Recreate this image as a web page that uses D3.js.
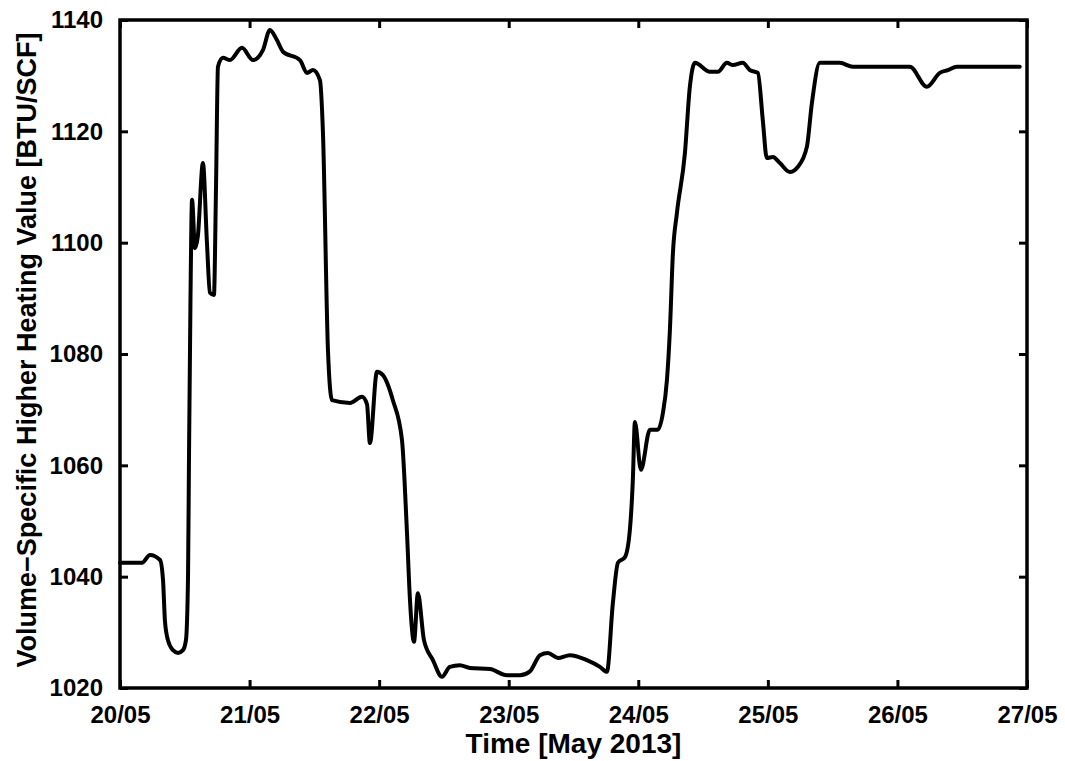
<!DOCTYPE html>
<html>
<head>
<meta charset="utf-8">
<script src="https://cdn.jsdelivr.net/npm/d3@7"></script>
<style>
  html, body { margin: 0; padding: 0; background: #fff; }
  svg { display: block; }
  text { font-family: "Liberation Sans", Arial, sans-serif; font-weight: bold; fill: #000; }
</style>
</head>
<body>
<svg id="chart" width="1065" height="761"></svg>
<script>
// Elapsed time in days since 20/05/2013 00:00
const dayOffsets = [
  0, 0.170, 0.231, 0.309, 0.332, 0.347, 0.370, 0.409, 0.448, 0.486, 0.509, 0.525,
  0.532, 0.544, 0.556, 0.579, 0.600, 0.640, 0.671, 0.694, 0.725, 0.741, 0.756, 0.795,
  0.849, 0.941, 1.026, 1.103, 1.157, 1.211, 1.258, 1.389, 1.443, 1.489, 1.543, 1.566,
  1.605, 1.636, 1.775, 1.867, 1.906, 1.929, 1.983, 2.029, 2.106, 2.176, 2.215, 2.238,
  2.269, 2.299, 2.346, 2.415, 2.485, 2.546, 2.623, 2.701, 2.855, 2.986, 3.086, 3.164,
  3.241, 3.302, 3.380, 3.472, 3.603, 3.704, 3.758, 3.804, 3.843, 3.897, 3.935, 3.958,
  3.974, 4.020, 4.090, 4.151, 4.190, 4.221, 4.244, 4.267, 4.298, 4.360, 4.398, 4.437,
  4.552, 4.614, 4.684, 4.730, 4.807, 4.861, 4.923, 4.961, 4.992, 5.039, 5.093, 5.170,
  5.231, 5.301, 5.340, 5.401, 5.556, 5.656, 6.096, 6.227, 6.327, 6.389, 6.458, 6.944
];

// Volume-specific higher heating value [BTU/SCF]
const hhvValues = [
  1042.5, 1042.5, 1043.9, 1043.0, 1039.4, 1032.0, 1028.6, 1026.8, 1026.3, 1026.8, 1028.6, 1040.0,
  1060.0, 1090.0, 1107.7, 1099.0, 1101.0, 1114.3, 1100.0, 1091.0, 1090.6, 1110.0, 1131.6, 1133.2,
  1132.8, 1135.0, 1132.8, 1134.6, 1138.2, 1136.4, 1134.3, 1132.8, 1130.5, 1131.0, 1129.2, 1120.0,
  1080.7, 1071.7, 1071.2, 1072.3, 1071.0, 1064.0, 1076.8, 1076.2, 1071.7, 1064.6, 1047.8, 1035.8,
  1028.3, 1037.0, 1028.6, 1025.0, 1022.0, 1023.8, 1024.1, 1023.6, 1023.4, 1022.3, 1022.3, 1023.0,
  1025.9, 1026.3, 1025.4, 1025.9, 1025.0, 1023.8, 1022.9, 1035.3, 1042.5, 1043.5, 1048.4, 1057.4,
  1067.8, 1059.2, 1066.4, 1066.4, 1069.4, 1075.3, 1084.3, 1098.0, 1105.3, 1116.1, 1128.0, 1132.3,
  1130.7, 1130.7, 1132.3, 1131.9, 1132.3, 1131.0, 1130.5, 1122.0, 1115.2, 1115.4, 1114.3, 1112.7,
  1113.6, 1117.2, 1125.1, 1132.3, 1132.3, 1131.6, 1131.6, 1128.0, 1130.5, 1131.0, 1131.6, 1131.6
];

// Axis ticks
const xTickDays = [0, 1, 2, 3, 4, 5, 6, 7];
const yTickValues = [1020, 1040, 1060, 1080, 1100, 1120, 1140];

const xTitle = "Time [May 2013]";
const yTitle = "Volume\u2212Specific Higher Heating Value [BTU/SCF]";

const startMs = Date.UTC(2013, 4, 20);
const toDate = d => new Date(startMs + d * 86400000);

const plot = { left: 120, right: 1027, top: 20, bottom: 688 };

const svg = d3.select("#chart");

const x = d3.scaleUtc()
  .domain([toDate(0), toDate(7)])
  .range([plot.left, plot.right]);

const y = d3.scaleLinear()
  .domain([1020, 1140])
  .range([plot.bottom, plot.top]);

const xTicks = xTickDays.map(toDate);
const fmtDay = d3.utcFormat("%d/%m");
const tickLen = 8;
const tickFont = 24;

function styleAxis(g) {
  g.select(".domain").remove();
  g.selectAll(".tick line").attr("stroke", "#000").attr("stroke-width", 3);
  g.selectAll(".tick text")
    .style("font-size", tickFont + "px")
    .style("font-weight", "bold")
    .attr("fill", "#000");
}

// Bottom axis with labels, inward ticks
svg.append("g")
  .attr("transform", `translate(0,${plot.bottom})`)
  .call(d3.axisBottom(x).tickValues(xTicks).tickFormat(fmtDay)
    .tickSizeInner(-tickLen).tickSizeOuter(0).tickPadding(tickLen + 10))
  .call(styleAxis);

// Top mirror ticks
svg.append("g")
  .attr("transform", `translate(0,${plot.top})`)
  .call(d3.axisTop(x).tickValues(xTicks).tickFormat(() => "")
    .tickSizeInner(-tickLen).tickSizeOuter(0))
  .call(styleAxis);

// Left axis with labels, inward ticks
svg.append("g")
  .attr("transform", `translate(${plot.left},0)`)
  .call(d3.axisLeft(y).tickValues(yTickValues).tickFormat(d3.format("d"))
    .tickSizeInner(-tickLen).tickSizeOuter(0).tickPadding(tickLen + 9))
  .call(styleAxis);

// Right mirror ticks
svg.append("g")
  .attr("transform", `translate(${plot.right},0)`)
  .call(d3.axisRight(y).tickValues(yTickValues).tickFormat(() => "")
    .tickSizeInner(-tickLen).tickSizeOuter(0))
  .call(styleAxis);

// Series line
const series = dayOffsets.map((d, i) => ({ t: toDate(d), v: hhvValues[i] }));
const line = d3.line()
  .x(d => x(d.t))
  .y(d => y(d.v))
  .curve(d3.curveMonotoneX);

svg.append("path")
  .datum(series)
  .attr("fill", "none")
  .attr("stroke", "#000")
  .attr("stroke-width", 4)
  .attr("stroke-linejoin", "round")
  .attr("stroke-linecap", "round")
  .attr("d", line);

// Plot frame
svg.append("rect")
  .attr("x", plot.left)
  .attr("y", plot.top)
  .attr("width", plot.right - plot.left)
  .attr("height", plot.bottom - plot.top)
  .attr("fill", "none")
  .attr("stroke", "#000")
  .attr("stroke-width", 3.5);

// Axis titles
svg.append("text")
  .attr("x", (plot.left + plot.right) / 2)
  .attr("y", 753)
  .attr("text-anchor", "middle")
  .style("font-size", "28px")
  .text(xTitle);

svg.append("text")
  .attr("transform", "translate(36,350) rotate(-90)")
  .attr("text-anchor", "middle")
  .style("font-size", "27px")
  .text(yTitle);
</script>
</body>
</html>
